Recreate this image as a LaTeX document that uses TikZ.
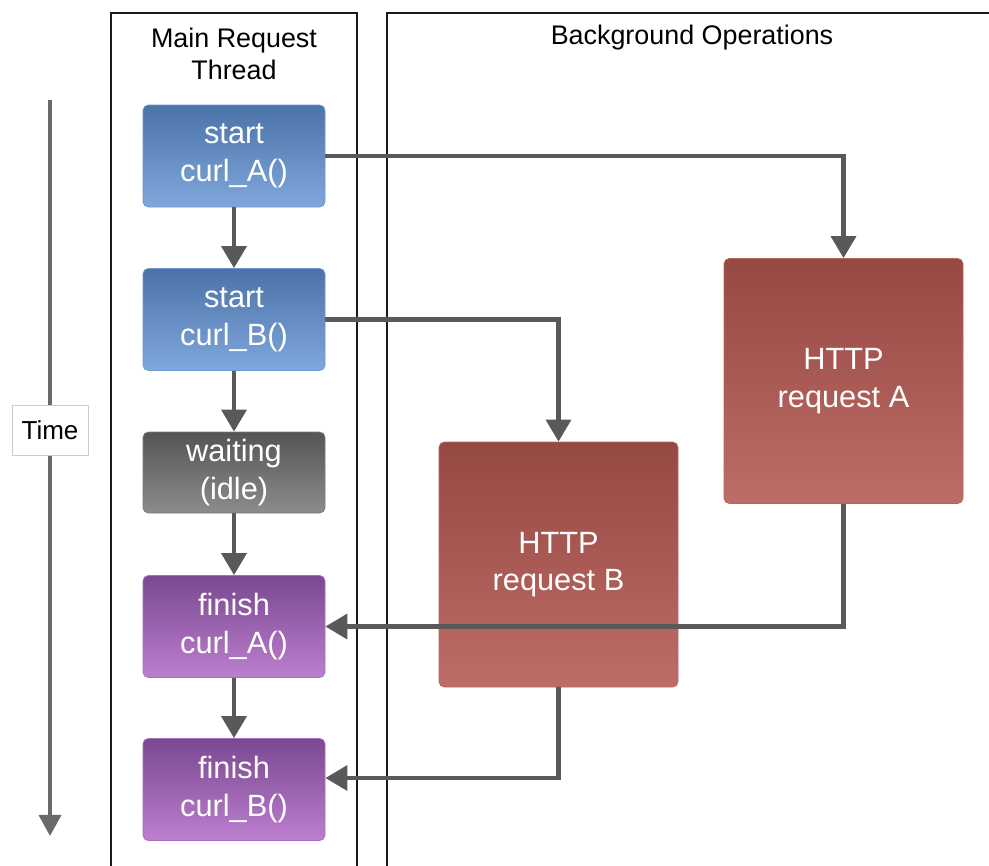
\documentclass[tikz,border=0pt]{standalone}
\usepackage{fontspec}
\setmainfont{Liberation Sans}
\usetikzlibrary{arrows.meta}

\definecolor{lanegray}{HTML}{1A1A1A}
\definecolor{flowgray}{HTML}{595959}
\definecolor{blueTop}{HTML}{4C73A8}
\definecolor{blueBot}{HTML}{7EA7DC}
\definecolor{idleTop}{HTML}{555555}
\definecolor{idleBot}{HTML}{8C8C8C}
\definecolor{purpTop}{HTML}{7A4890}
\definecolor{purpBot}{HTML}{BC7FCE}
\definecolor{httpTop}{HTML}{964842}
\definecolor{httpBot}{HTML}{BE6C66}

\begin{document}
\begin{tikzpicture}%
    [x = 0.2mm, y = -0.2mm,
     lane/.style = {draw=lanegray, line width=0.8pt},
     title/.style = {align=center, font=\fontsize{15.3}{18}\selectfont},
     call/.style = {rounded corners=3pt, inner sep=0pt, align=center, text=white,
                    minimum width=36.4mm, minimum height=20.4mm,
                    font=\fontsize{17.5}{21.5}\selectfont},
     startbox/.style = {call, top color=blueTop, bottom color=blueBot, draw=blueBot!70!blueTop},
     idlebox/.style = {call, minimum height=16.2mm, top color=idleTop, bottom color=idleBot, draw=idleBot!70!idleTop},
     finishbox/.style = {call, top color=purpTop, bottom color=purpBot, draw=purpBot!70!purpTop},
     httpbox/.style = {call, minimum width=47.8mm, minimum height=49mm,
                       top color=httpTop, bottom color=httpBot, draw=httpBot!80!httpTop},
     flow/.style = {draw=flowgray, line width=2.6pt,
                    -{Triangle[length=12.5pt, width=14pt]}}]
    \useasboundingbox (0,0) rectangle (989,865);

    % swim lanes
    \draw[lane] (111,880) -- (111,13) -- (357,13) -- (357,880);
    \draw[lane] (387,880) -- (387,13) -- (1000,13);
    \node[title] (mainTitle) at (234,54) {Main Request\\Thread};
    \node[title] (bgTitle) at (692,38) {Background Operations};

    % time axis
    \coordinate (tStart) at (50,100);
    \coordinate (tEnd) at (50,836);
    \draw[draw=flowgray!90!white, line width=2.2pt, -{Triangle[length=12pt, width=12.5pt]}] (tStart) -- (tEnd);
    \node[fill=white, draw=black!20, minimum width=15.2mm, minimum height=10mm,
          font=\fontsize{14.8}{18}\selectfont] (time) at (50,430) {Time};

    % main thread
    \node[startbox] (startA) at (234,156) {start\\curl\_A()};
    \node[startbox] (startB) at (234,319.5) {start\\curl\_B()};
    \node[idlebox] (idle) at (234,472.5) {waiting\\(idle)};
    \node[finishbox] (finishA) at (234,626.5) {finish\\curl\_A()};
    \node[finishbox] (finishB) at (234,789.5) {finish\\curl\_B()};

    % background requests
    \node[httpbox] (httpA) at (843.5,381) {HTTP\\request A};
    \node[httpbox] (httpB) at (558.5,564.5) {HTTP\\request B};

    \draw[flow] (startA) -- (startB);
    \draw[flow] (startB) -- (idle);
    \draw[flow] (idle) -- (finishA);
    \draw[flow] (finishA) -- (finishB);

    \draw[flow] (startA.east) -| (httpA.north);
    \draw[flow] (startB.east) -| (httpB.north);
    \draw[flow] (httpA.south) |- (finishA.east);
    \draw[flow] (httpB.south) |- ([yshift=2.3mm]finishB.east);
\end{tikzpicture}
\end{document}
